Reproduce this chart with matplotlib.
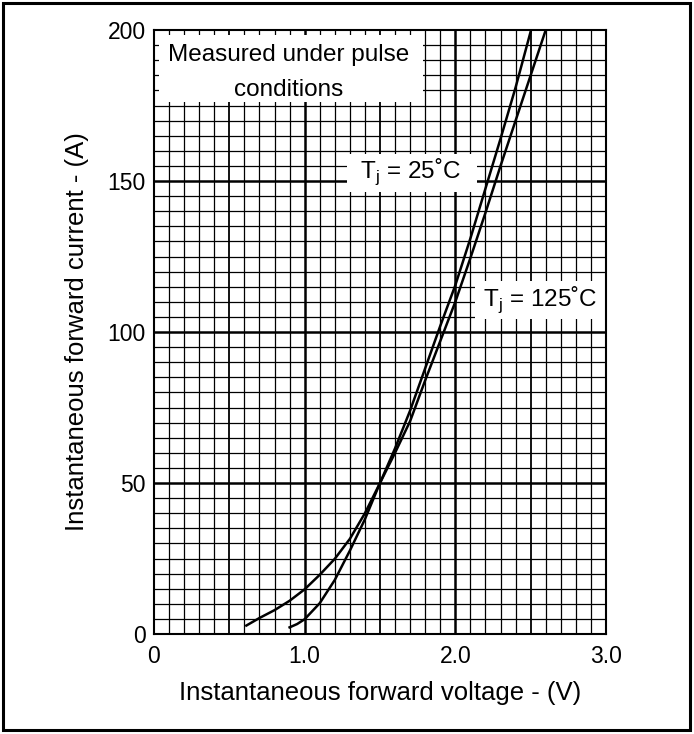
import matplotlib
matplotlib.use("Agg")
import matplotlib.pyplot as plt
from matplotlib.patches import Rectangle
import numpy as np

plt.rcParams['font.family'] = ['Liberation Sans', 'DejaVu Sans']

# Tj = 25 C curve (lower at small currents, left one at the top)
v_25 = [0.90, 0.95, 1.00, 1.10, 1.20, 1.30, 1.40, 1.50, 1.60, 1.70, 1.80, 1.90, 2.00, 2.10, 2.20, 2.30, 2.40, 2.50]
i_25 = [2.2, 3.3, 4.9, 10.2, 17.9, 27.6, 38.0, 50, 61.5, 74, 88, 102, 115.5, 131, 147.5, 164, 181, 199.5]

# Tj = 125 C curve
v_125 = [0.613, 0.70, 0.80, 0.90, 1.00, 1.10, 1.20, 1.30, 1.40, 1.50, 1.60, 1.70, 1.80, 1.90, 2.00, 2.10, 2.20, 2.30, 2.40, 2.50, 2.60]
i_125 = [2.8, 5.3, 7.9, 11.0, 14.8, 19.6, 24.9, 31.5, 40.0, 50, 60, 70.5, 84, 97, 110, 124.5, 139.5, 155, 170, 185, 200]

x_ticks = [0, 1.0, 2.0, 3.0]
x_tick_labels = ['0', '1.0', '2.0', '3.0']
y_ticks = [0, 50, 100, 150, 200]
y_tick_labels = ['0', '50', '100', '150', '200']

fig = plt.figure(figsize=(6.94, 7.34), dpi=100)
ax = fig.add_axes([154/694, 100/734, 452/694, 604/734])

ax.set_xlim(0, 3.0)
ax.set_ylim(0, 200)

# graph paper grid
for xv in np.arange(0.1, 3.0, 0.1):
    xv = round(xv, 1)
    if abs(xv - round(xv)) < 1e-6:
        lw = 1.8
    elif abs(xv * 2 - round(xv * 2)) < 1e-6:
        lw = 1.3
    else:
        lw = 0.9
    ax.axvline(xv, color='black', lw=lw, zorder=1)
for yv in range(5, 200, 5):
    if yv % 50 == 0:
        lw = 1.8
    else:
        lw = 0.9
    ax.axhline(yv, color='black', lw=lw, zorder=1)

# white boxes behind the labels
ax.add_patch(Rectangle((0.03, 176), 1.755, 22.5, facecolor='white', edgecolor='none', zorder=2))
ax.add_patch(Rectangle((1.281, 146.4), 0.862, 12.6, facecolor='white', edgecolor='none', zorder=2))
ax.add_patch(Rectangle((2.13, 104.2), 0.87, 12.6, facecolor='white', edgecolor='none', zorder=2))

ax.text(0.895, 186.0, 'Measured under pulse\nconditions', ha='center', va='center',
        fontsize=17.5, linespacing=1.75, zorder=3)
ax.text(1.70, 153, 'T$_\\mathregular{j}$ = 25\u02daC', ha='center', va='center', fontsize=17.5, zorder=3)
ax.text(2.56, 110.8, 'T$_\\mathregular{j}$ = 125\u02daC', ha='center', va='center', fontsize=17.5, zorder=3)

ax.plot(v_25, i_25, color='black', lw=1.8, zorder=4)
ax.plot(v_125, i_125, color='black', lw=1.8, zorder=4)

ax.set_xticks(x_ticks)
ax.set_xticklabels(x_tick_labels)
ax.set_yticks(y_ticks)
ax.set_yticklabels(y_tick_labels)
ax.tick_params(length=0, labelsize=16.5)
ax.tick_params(axis='x', pad=8)
ax.tick_params(axis='y', pad=6)
for s in ax.spines.values():
    s.set_linewidth(1.5)

ax.set_xlabel('Instantaneous forward voltage - (V)', fontsize=18.5, labelpad=9)
ax.set_ylabel('Instantaneous forward current - (A)', fontsize=18.5, labelpad=13)

# outer frame
fig.patches.append(Rectangle((3/694, 4/734), 687/694, 727/734, transform=fig.transFigure,
                             fill=False, edgecolor='black', lw=2.2))

fig.savefig('out.png', dpi=100)
